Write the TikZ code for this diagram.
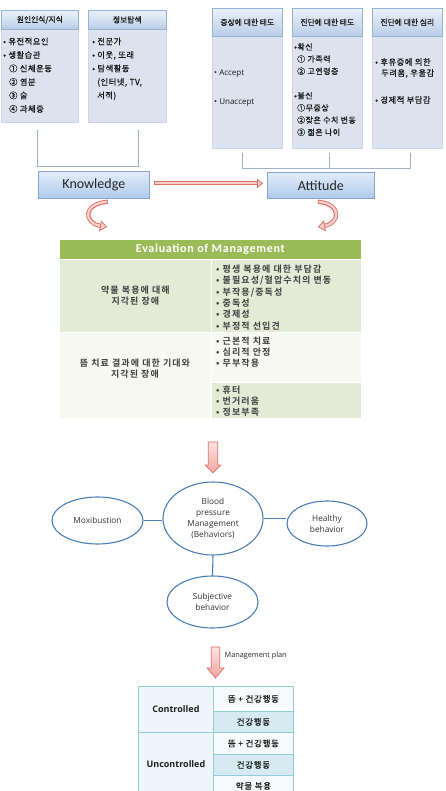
\documentclass[tikz,border=0pt]{standalone}
\usepackage{fontspec}
\setmainfont{Open Sans}
\newfontfamily\kr{Noto Sans CJK KR}
\newfontfamily\krh[FakeBold=1.2]{Noto Sans CJK KR}
\newfontfamily\krs[LetterSpace=6,FakeBold=0.5]{Noto Sans CJK KR}
\newfontfamily\krsp[LetterSpace=8,FakeBold=0.5]{Noto Sans CJK KR}
\newfontfamily\krbsp[LetterSpace=12]{Noto Sans CJK KR Bold}
\newfontfamily\calfont{Carlito}
\newfontfamily\calbsp[LetterSpace=6]{Carlito Bold}
\usetikzlibrary{shapes.geometric,calc,arrows.meta}
\definecolor{hdtop}{HTML}{EBF1F9}
\definecolor{hdbot}{HTML}{B9CDE7}
\definecolor{hdline}{HTML}{95B3D7}
\definecolor{bodyfill}{HTML}{DCE3EE}
\definecolor{bodyline}{HTML}{CBD6E6}
\definecolor{brk}{HTML}{9DB1CB}
\definecolor{katop}{HTML}{E2ECF8}
\definecolor{kabot}{HTML}{B0CAEC}
\definecolor{kaline}{HTML}{86A6D2}
\definecolor{arrfill}{HTML}{F6CFCB}
\definecolor{arrline}{HTML}{DC7168}
\definecolor{dtop}{HTML}{FBE4E2}
\definecolor{dbot}{HTML}{F1A59F}
\definecolor{evhead}{HTML}{9BBB59}
\definecolor{evA}{HTML}{E3EAD6}
\definecolor{evB}{HTML}{F6F8F1}
\definecolor{ellline}{HTML}{4A7EBB}
\definecolor{tbline}{HTML}{92CDDC}
\definecolor{tbleft}{HTML}{EEF6F9}
\definecolor{tbwhite}{HTML}{F8FBFC}
\definecolor{tbshade}{HTML}{D5EBF1}
\tikzset{
  hdr/.style={draw=hdline, line width=0.6pt, top color=hdtop, bottom color=hdbot, anchor=north west, inner sep=0pt, font=\krh\fontsize{7.8}{9}\selectfont, text=black!88},
  bodyrect/.style={fill=bodyfill, draw=bodyline, line width=0.5pt, anchor=north west, inner sep=0pt},
  boxtext/.style={anchor=north west, inner sep=0pt, align=left, text=black!90},
  bracket/.style={draw=brk, line width=0.7pt},
  kabox/.style={draw=kaline, line width=0.7pt, top color=katop, bottom color=kabot, font=\calfont\fontsize{14}{16}\selectfont, text=black!85, inner sep=0pt, anchor=north west},
  arrouter/.style={draw=arrline, line width=4.3pt},
  arrinner/.style={draw=arrfill, line width=2.3pt},
  evcell/.style={draw=white, line width=0.8pt, anchor=north west, inner sep=0pt},
  evtext/.style={inner sep=0pt, font=\krbsp\fontsize{9}{11.3}\selectfont, text=black!75},
  bpell/.style={ellipse, draw=ellline, line width=1.1pt, fill=white, inner sep=0pt, font=\fontsize{8.3}{11}\selectfont, text=black!80, align=center},
  bpline/.style={draw=ellline, line width=1.1pt},
  tbcell/.style={draw=tbline, line width=0.8pt, anchor=north west, inner sep=0pt, text=black!88},
  blockarr/.style={draw=arrline, line width=0.7pt, top color=dtop, bottom color=dbot},
}
\begin{document}
\begin{tikzpicture}[x=1pt,y=-1pt]
\useasboundingbox (0,0) rectangle (445,791);
\clip (0,0) rectangle (445,791);
\fill[white] (0,0) rectangle (445,791);

% ---------- top boxes ----------
\node[bodyrect, minimum width=77pt, minimum height=93pt] (b1) at (1,29) {};
\node[hdr, minimum width=77pt, minimum height=19pt] (h1) at (1,10) {원인인식/지식};
\node[bodyrect, minimum width=78pt, minimum height=93pt] (b2) at (88,29) {};
\node[hdr, minimum width=78pt, minimum height=19pt] (h2) at (88,10) {정보탐색};

\node[bodyrect, minimum width=70pt, minimum height=112pt] (b3) at (212,36) {};
\node[hdr, minimum width=70pt, minimum height=28pt] (h3) at (212,8) {증상에 대한 태도};
\node[bodyrect, minimum width=70pt, minimum height=112pt] (b4) at (292,36) {};
\node[hdr, minimum width=70pt, minimum height=28pt] (h4) at (292,8) {진단에 대한 태도};
\node[bodyrect, minimum width=70pt, minimum height=112pt] (b5) at (372,36) {};
\node[hdr, minimum width=70pt, minimum height=28pt] (h5) at (372,8) {진단에 대한 심리};

\node[boxtext, font=\krs\fontsize{8.3}{13.5}\selectfont] (t1) at (3,37.5)
  {• 유전적요인\\• 생활습관\\\hspace*{6pt}① 신체운동\\\hspace*{6pt}② 염분\\\hspace*{6pt}③ 술\\\hspace*{6pt}④ 과체중};
\node[boxtext, font=\krs\fontsize{8.3}{13.5}\selectfont] (t2) at (92,37.5)
  {• 전문가\\• 이웃, 또래\\• 탐색활동\\\hspace*{5pt}(인터넷, TV,\\\hspace*{5pt}서적)};
\node[boxtext, font=\fontsize{8}{29}\selectfont] (t3) at (214,69.5)
  {• Accept\\• Unaccept};
\node[boxtext, font=\krs\fontsize{8}{12.2}\selectfont] (t4) at (294,43)
  {•확신\\\hspace*{3pt}① 가족력\\\hspace*{3pt}② 고연령층\\[12.2pt]•불신\\\hspace*{3pt}①무증상\\\hspace*{3pt}②잦은 수치 변동\\\hspace*{3pt}③ 젊은 나이};
\node[boxtext, font=\krs\fontsize{8.3}{11}\selectfont] (t5) at (375,58)
  {• 후유증에 의한\\\hspace*{6pt}두려움, 우울감\\[16pt]• 경제적 부담감};

% brackets
\coordinate (lb1) at (37,130); \coordinate (lb2) at (138,130); \coordinate (lby) at (0,166);
\draw[bracket] (lb1) -- (lb1 |- lby) -- (lb2 |- lby) -- (lb2);
\coordinate (rb1) at (242,153); \coordinate (rb2) at (329,153); \coordinate (rb3) at (410,153); \coordinate (rby) at (0,168);
\draw[bracket] (rb1) -- (rb1 |- rby) -- (rb3 |- rby) -- (rb3);
\draw[bracket] (rb2) -- (rb2 |- rby);

% ---------- Knowledge / Attitude ----------
\node[kabox, minimum width=111pt, minimum height=27pt] (K) at (38,171) {Knowledge};
\node[kabox, minimum width=107pt, minimum height=26pt] (A) at (267,172) {Attitude};

\draw[arrouter, -{Triangle[length=6pt,width=9.5pt,line width=0.8pt,fill=arrfill]}] ($(K.east)+(4,-1.5)$) -- ($(A.west)+(-4,-2)$);
\draw[arrinner, shorten >=6.3pt, shorten <=0.9pt] ($(K.east)+(4,-1.5)$) -- ($(A.west)+(-4,-2)$);

% ---------- Evaluation table ----------
\node[evcell, fill=evhead, minimum width=302pt, minimum height=20pt, font=\calbsp\fontsize{12}{14}\selectfont, text=white] (evh) at (59,239) {Evaluation of Management};
\node[evcell, fill=evA, minimum width=152pt, minimum height=73pt] (e11) at (59,259) {};
\node[evcell, fill=evA, minimum width=150pt, minimum height=73pt] (e12) at (211,259) {};
\node[evcell, fill=evB, minimum width=152pt, minimum height=86pt] (e21) at (59,332) {};
\node[evcell, fill=evB, minimum width=150pt, minimum height=50pt] (e22) at (211,332) {};
\node[evcell, fill=evA, minimum width=150pt, minimum height=36pt] (e23) at (211,382) {};

\node[evtext, align=center] (x11) at (e11.center) {약물 복용에 대해\\지각된 장애};
\node[evtext, align=left, anchor=west] (x12) at (216,297.5)
  {• 평생 복용에 대한 부담감\\• 불필요성/혈압수치의 변동\\• 부작용/중독성\\• 중독성\\• 경제성\\• 부정적 선입견};
\node[evtext, align=center] (x21) at (135,368.5) {뜸 치료 결과에 대한 기대와\\지각된 장애};
\node[evtext, align=left, anchor=west] (x22) at (216,352) {• 근본적 치료\\• 심리적 안정\\• 무부작용};
\node[evtext, align=left, anchor=west] (x23) at (216,401) {• 휴터\\• 번거러움\\• 정보부족};

% curved arrows
\draw[arrouter, -{Triangle[length=7pt,width=11pt,line width=0.8pt,fill=arrfill]}]
  ($(K.south)+(14,3)$) .. controls (82,204) and (84,223) .. (107,227);
\draw[arrinner, shorten >=7.2pt, shorten <=0.9pt]
  ($(K.south)+(14,3)$) .. controls (82,204) and (84,223) .. (107,227);
\draw[arrouter, -{Triangle[length=7pt,width=11pt,line width=0.8pt,fill=arrfill]}]
  ($(A.south)+(-3,3)$) .. controls (342,204) and (340,223) .. (318,227);
\draw[arrinner, shorten >=7.2pt, shorten <=0.9pt]
  ($(A.south)+(-3,3)$) .. controls (342,204) and (340,223) .. (318,227);

% down arrow 1
\coordinate (d1) at (213,442);
\draw[blockarr, shift={(d1)}] (-4.7,0) -- (4.7,0) -- (4.7,23) -- (7.8,23) -- (0,31) -- (-7.8,23) -- (-4.7,23) -- cycle;

% ---------- Ellipses ----------
\node[bpell, minimum width=100pt, minimum height=73pt] (bp) at (213,518.5) {Blood\\pressure\\Management\\(Behaviors)};
\node[bpell, minimum width=91pt, minimum height=47pt] (mox) at (97.5,520.5) {Moxibustion};
\node[bpell, minimum width=80pt, minimum height=45pt] (hb) at (327,523.5) {Healthy\\behavior};
\node[bpell, minimum width=91pt, minimum height=52pt] (sb) at (212.5,602) {Subjective\\behavior};
\draw[bpline] (mox.east) -- (mox.east -| bp.west);
\draw[bpline] (bp.east) -- (bp.east -| hb.west);
\draw[bpline] (bp.south) -- (sb.north);

% down arrow 2
\coordinate (d2) at (215.5,647);
\draw[blockarr, shift={(d2)}] (-4.2,0) -- (4.2,0) -- (4.2,21) -- (8.5,21) -- (0,31) -- (-8.5,21) -- (-4.2,21) -- cycle;
\node[anchor=west, inner sep=0pt, font=\fontsize{7.3}{9}\selectfont, text=black!85] (mp) at (224.5,656) {Management plan};

% ---------- bottom table ----------
\node[tbcell, fill=tbleft, minimum width=75pt, minimum height=46pt, font=\bfseries\fontsize{9}{11}\selectfont] (c1) at (138,686) {Controlled};
\node[tbcell, fill=tbleft, minimum width=75pt, minimum height=64pt, font=\bfseries\fontsize{9}{11}\selectfont] (c2) at (138,732) {Uncontrolled};
\node[tbcell, fill=tbwhite, minimum width=80pt, minimum height=25pt, font=\krsp\fontsize{8.5}{10}\selectfont] (r1) at (213,686) {뜸 + 건강행동};
\node[tbcell, fill=tbshade, minimum width=80pt, minimum height=21pt, font=\krsp\fontsize{8.5}{10}\selectfont] (r2) at (213,711) {건강행동};
\node[tbcell, fill=tbwhite, minimum width=80pt, minimum height=22pt, font=\krsp\fontsize{8.5}{10}\selectfont] (r3) at (213,732) {뜸 + 건강행동};
\node[tbcell, fill=tbshade, minimum width=80pt, minimum height=21pt, font=\krsp\fontsize{8.5}{10}\selectfont] (r4) at (213,754) {건강행동};
\node[tbcell, fill=tbwhite, minimum width=80pt, minimum height=21pt, font=\krsp\fontsize{8.5}{10}\selectfont] (r5) at (213,775) {약물 복용};
\end{tikzpicture}
\end{document}
